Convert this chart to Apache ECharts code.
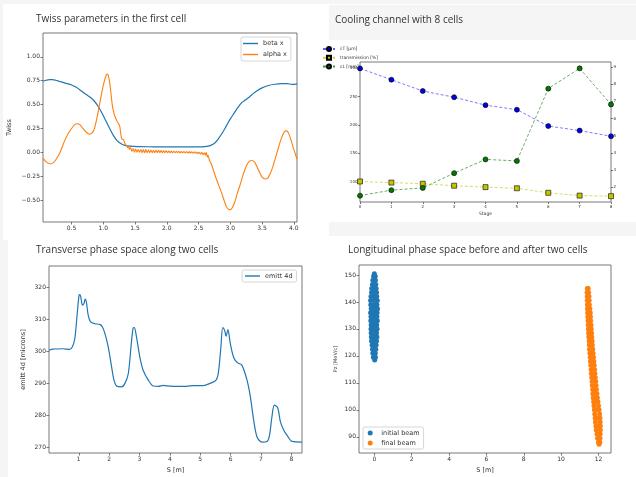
<!DOCTYPE html>
<html>
<head>
<meta charset="utf-8">
<script src="https://cdn.jsdelivr.net/npm/echarts@6/dist/echarts.min.js"></script>
<style>
  html, body { margin: 0; padding: 0; background: #ffffff; }
  #chart { width: 636px; height: 477px; }
</style>
</head>
<body>
<div id="chart"></div>
<script>
// ---- Twiss parameters along the first cell: [s, value] ----
const betaCurve = [
  [0.05,0.745],[0.10,0.755],[0.15,0.762],[0.20,0.762],[0.25,0.755],[0.30,0.745],[0.40,0.725],
  [0.50,0.705],[0.58,0.68],[0.65,0.645],[0.72,0.61],[0.80,0.575],[0.86,0.535],[0.92,0.48],
  [0.98,0.41],[1.04,0.33],[1.10,0.25],[1.16,0.175],[1.22,0.12],[1.28,0.09],[1.34,0.072],
  [1.42,0.064],[1.55,0.06],[1.80,0.058],[2.00,0.056],[2.30,0.056],[2.55,0.058],[2.63,0.062],
  [2.70,0.075],[2.76,0.10],[2.82,0.15],[2.88,0.21],[2.94,0.28],[3.00,0.35],[3.06,0.41],
  [3.12,0.47],[3.18,0.52],[3.24,0.55],[3.30,0.58],[3.36,0.615],[3.42,0.645],[3.50,0.675],
  [3.60,0.70],[3.70,0.713],[3.80,0.72],[3.90,0.72],[3.97,0.712],[4.05,0.715]
];
const alphaCurve = [
  [0.05,-0.06],[0.10,-0.10],[0.16,-0.12],[0.21,-0.11],[0.26,-0.07],[0.32,0.00],[0.39,0.12],
  [0.45,0.20],[0.50,0.25],[0.55,0.29],[0.59,0.30],[0.63,0.29],[0.68,0.25],[0.73,0.21],
  [0.78,0.19],[0.82,0.20],[0.86,0.25],[0.90,0.36],[0.94,0.50],[0.98,0.64],[1.01,0.73],
  [1.04,0.80],[1.06,0.82],[1.08,0.80],[1.10,0.73],[1.12,0.62],[1.14,0.50],[1.16,0.43],
  [1.18,0.38],[1.20,0.35],[1.22,0.32],[1.24,0.30],[1.26,0.27],[1.27,0.22],[1.28,0.17],
  [1.29,0.14],[1.31,0.135],[1.32,0.13],[1.33,0.11],[1.35,0.08],[1.37,0.07],[1.38,0.05],
  [1.40,0.06],[1.41,0.03],
  [1.43,0.05],[1.45,0.01],[1.47,0.04],[1.49,0.00],[1.51,0.035],[1.53,0.00],[1.55,0.03],
  [1.57,0.00],[1.59,0.03],[1.61,-0.005],[1.63,0.03],[1.65,-0.005],[1.67,0.028],[1.69,-0.005],
  [1.71,0.025],[1.73,-0.005],[1.75,0.025],[1.77,-0.005],[1.79,0.022],[1.81,-0.005],[1.83,0.02],
  [1.85,-0.004],[1.87,0.02],[1.89,-0.004],[1.91,0.018],[1.93,-0.003],[1.95,0.016],[1.97,-0.003],
  [1.99,0.015],[2.01,-0.003],[2.03,0.013],[2.05,-0.004],[2.07,0.012],[2.09,-0.004],[2.11,0.011],
  [2.13,-0.004],[2.15,0.010],[2.17,-0.004],[2.19,0.010],[2.21,-0.005],[2.23,0.009],[2.25,-0.005],
  [2.27,0.008],[2.29,-0.006],[2.31,0.008],[2.33,-0.007],[2.35,0.007],[2.37,-0.008],[2.39,0.006],
  [2.41,-0.009],[2.43,0.005],[2.45,-0.01],[2.47,0.003],[2.49,-0.014],[2.51,0.0],[2.53,-0.018],
  [2.55,0.0],[2.57,-0.025],[2.59,-0.005],[2.61,-0.03],[2.62,0.0],[2.64,-0.05],[2.65,-0.03],
  [2.67,-0.08],[2.70,-0.12],[2.74,-0.20],[2.78,-0.28],[2.82,-0.35],[2.86,-0.42],[2.90,-0.50],
  [2.94,-0.57],[2.98,-0.60],[3.00,-0.60],[3.03,-0.58],[3.07,-0.52],[3.11,-0.43],[3.15,-0.35],
  [3.19,-0.26],[3.23,-0.18],[3.27,-0.12],[3.31,-0.09],[3.34,-0.085],[3.38,-0.10],[3.42,-0.15],
  [3.46,-0.21],[3.50,-0.26],[3.55,-0.28],[3.59,-0.27],[3.63,-0.22],[3.67,-0.15],[3.71,-0.06],
  [3.75,0.03],[3.79,0.12],[3.83,0.19],[3.87,0.225],[3.90,0.22],[3.93,0.18],[3.96,0.12],
  [3.99,0.05],[4.02,-0.01],[4.05,-0.07]
];
const twissXTicks = [0.5, 1.0, 1.5, 2.0, 2.5, 3.0, 3.5, 4.0];
const twissYTicks = [-0.5, -0.25, 0, 0.25, 0.5, 0.75, 1.0];

// ---- Cooling channel, one value per stage ----
const stages = [0, 1, 2, 3, 4, 5, 6, 7, 8];
const emittT = [300, 280, 260, 249, 235, 227, 198, 190, 180];
const transmission = [100, 98, 96, 92.5, 90, 88, 80, 75, 74];
const emittL = [1.51, 1.83, 1.96, 2.82, 3.62, 3.53, 7.74, 8.92, 6.82];
const stageLeftTicks = [100, 150, 200, 250, 300];
const stageRightTicks = [2, 3, 4, 5, 6, 7, 8, 9];

// ---- Transverse 4D emittance along two cells: [s, microns] ----
const emitt4d = [
  [0.02,300.35],[0.15,300.7],[0.48,300.8],[0.70,300.6],[0.79,301.4],[0.87,304],[0.95,311.8],
  [1.01,317.5],[1.04,317.7],[1.08,316.2],[1.12,314.4],[1.17,314.9],[1.21,316.3],[1.25,315.4],
  [1.31,311.3],[1.39,309.2],[1.53,308.6],[1.69,308.4],[1.78,307.6],[1.86,305.6],[1.97,301.4],
  [2.08,295.2],[2.16,291],[2.24,289.2],[2.41,288.9],[2.52,290],[2.63,293],[2.72,301.4],
  [2.79,307.3],[2.83,307.4],[2.90,304.5],[3.01,298.3],[3.12,294.1],[3.29,291],[3.45,289.2],
  [3.62,289.1],[3.78,289.4],[3.89,289.2],[4.11,289.1],[4.55,289.1],[4.77,289.3],[5.10,289.3],
  [5.32,290],[5.52,291],[5.60,293.6],[5.68,301.4],[5.74,307.4],[5.80,306.6],[5.85,304.7],
  [5.91,306.8],[5.99,302.4],[6.10,298.1],[6.23,296.4],[6.37,295.7],[6.54,291],[6.65,285.8],
  [6.76,278.5],[6.87,273.3],[7.03,271.7],[7.20,271.9],[7.28,273.8],[7.36,279.6],[7.44,283.2],
  [7.55,282.4],[7.64,278],[7.75,275.4],[7.86,273.8],[8.02,271.9],[8.35,271.7]
];
const transXTicks = [1, 2, 3, 4, 5, 6, 7, 8];
const transYTicks = [270, 280, 290, 300, 310, 320];

// ---- Longitudinal phase space: [s, Pz] per particle ----
const initialBeam = [
  [0.02,118.5],[-0.05,119.5],[0.06,119.5],[-0.08,121],[0.05,121],[-0.1,122.5],[0.08,122.5],[0.0,122.5],
  [-0.12,124],[0.1,124],[-0.02,124],[-0.15,125.5],[0.12,125.5],[0.0,125.5],[-0.16,127],[0.14,127],
  [-0.03,127],[0.05,127],[-0.17,128.5],[0.12,128.5],[0.0,128.5],[-0.18,130],[0.15,130],[-0.05,130],
  [0.06,130],[-0.17,131.5],[0.13,131.5],[0.0,131.5],[-0.19,133],[0.16,133],[-0.04,133],[0.07,133],
  [-0.18,134.5],[0.14,134.5],[0.01,134.5],[-0.2,136],[0.15,136],[-0.05,136],[0.06,136],[-0.17,137.5],
  [0.17,137.5],[0.0,137.5],[-0.19,139],[0.14,139],[-0.06,139],[0.07,139],[-0.2,140.5],[0.16,140.5],
  [0.0,140.5],[-0.18,142],[0.13,142],[-0.04,142],[0.05,142],[-0.15,143.5],[0.12,143.5],[0.0,143.5],
  [-0.14,145],[0.1,145],[-0.02,145],[-0.1,146.5],[0.08,146.5],[0.0,146.5],[-0.08,148],[0.06,148],
  [-0.04,149.5],[0.05,149.5],[0.0,150.5]
];
const finalBeam = [
  [11.40,145],[11.45,145],[11.39,143.5],[11.47,143.5],[11.40,142],[11.49,142],[11.40,140.5],[11.50,140.5],
  [11.41,139],[11.51,139],[11.46,139],[11.41,137.5],[11.54,137.5],[11.42,136],[11.56,136],[11.43,134.5],
  [11.57,134.5],[11.50,134.5],[11.44,133],[11.58,133],[11.45,131.5],[11.60,131.5],[11.46,130],[11.61,130],
  [11.54,130],[11.47,128.5],[11.63,128.5],[11.48,127],[11.64,127],[11.50,125.5],[11.66,125.5],[11.58,125.5],
  [11.51,124],[11.67,124],[11.52,122.5],[11.69,122.5],[11.54,121],[11.71,121],[11.62,121],[11.56,119.5],
  [11.73,119.5],[11.57,118],[11.75,118],[11.59,116.5],[11.77,116.5],[11.68,116.5],[11.61,115],[11.79,115],
  [11.62,113.5],[11.81,113.5],[11.64,112],[11.83,112],[11.73,112],[11.66,110.5],[11.85,110.5],[11.67,109],
  [11.87,109],[11.69,107.5],[11.89,107.5],[11.79,107.5],[11.70,106],[11.92,106],[11.72,104.5],[11.94,104.5],
  [11.74,103],[11.97,103],[11.85,103],[11.76,101.5],[12.00,101.5],[11.78,100],[12.03,100],[11.90,100],
  [11.80,98.5],[12.06,98.5],[11.82,97],[12.08,97],[11.95,97],[11.84,95.5],[12.09,95.5],[11.86,94],
  [12.10,94],[11.98,94],[11.88,92.5],[12.10,92.5],[11.92,91],[12.09,91],[11.95,89.5],[12.08,89.5],
  [12.00,88],[12.07,88],[12.03,87.2]
];
const longXTicks = [0, 2, 4, 6, 8, 10, 12];
const longYTicks = [90, 100, 110, 120, 130, 140, 150];

const TICK_FONT = 'DejaVu Sans';
const TITLE_FONT = 'Open Sans';
const INK = '#333333';

function valueAxis(opts) {
  const size = opts.fontSize || 6;
  return {
    type: 'value',
    gridIndex: opts.grid,
    position: opts.position,
    min: opts.min,
    max: opts.max,
    name: opts.name || '',
    nameLocation: 'middle',
    nameGap: opts.nameGap || 12,
    nameTextStyle: { fontFamily: TICK_FONT, fontSize: opts.nameSize || size + 0.5, color: INK },
    axisLine: { show: false, onZero: false },
    splitLine: { show: false },
    axisTick: {
      show: true,
      length: opts.tickLen || 2.5,
      customValues: opts.ticks,
      lineStyle: { color: '#444', width: 0.7 }
    },
    axisLabel: {
      show: true,
      customValues: opts.ticks,
      fontFamily: TICK_FONT,
      fontSize: size,
      color: INK,
      margin: opts.margin || 3,
      formatter: opts.formatter
    }
  };
}

const minusFmt = (digits) => (v) => {
  const s = Number(v).toFixed(digits);
  return s.replace('-', '\u2212');
};

const chart = echarts.init(document.getElementById('chart'), null, { renderer: 'canvas' });

const gridFrame = { show: true, borderColor: '#555', borderWidth: 0.8, backgroundColor: '#ffffff' };

chart.setOption({
  backgroundColor: '#ffffff',
  animation: false,
  graphic: [
    { type: 'rect', silent: true, z: -10, shape: { x: 0, y: 0, width: 636, height: 4 }, style: { fill: '#f5f5f5' } },
    { type: 'rect', silent: true, z: -10, shape: { x: 0, y: 0, width: 3, height: 240 }, style: { fill: '#f5f5f5' } },
    { type: 'rect', silent: true, z: -10, shape: { x: 329, y: 5, width: 307, height: 35 }, style: { fill: '#f5f5f5' } },
    { type: 'rect', silent: true, z: -10, shape: { x: 329, y: 222, width: 307, height: 14 }, style: { fill: '#f5f5f5' } },
    { type: 'rect', silent: true, z: -10, shape: { x: 0, y: 240, width: 8, height: 237 }, style: { fill: '#f5f5f5' } }
  ],
  title: [
    { text: 'Twiss parameters in the first cell', left: 36, top: 14 },
    { text: 'Cooling channel with 8 cells', left: 335, top: 15 },
    { text: 'Transverse phase space along two cells', left: 36, top: 245 },
    { text: 'Longitudinal phase space before and after two cells', left: 348, top: 245 }
  ].map(t => Object.assign(t, {
    padding: 0,
    textStyle: { fontFamily: TITLE_FONT, fontSize: 10, fontWeight: 'normal', color: '#333' }
  })),
  grid: [
    Object.assign({ left: 43, top: 33, width: 254, height: 189 }, gridFrame),
    Object.assign({ left: 360, top: 62, width: 251, height: 140 }, gridFrame),
    Object.assign({ left: 49, top: 266, width: 253, height: 187 }, gridFrame),
    Object.assign({ left: 359, top: 265, width: 252, height: 188 }, gridFrame)
  ],
  xAxis: [
    valueAxis({ grid: 0, min: 0.05, max: 4.05, ticks: twissXTicks, formatter: minusFmt(1) }),
    valueAxis({ grid: 1, min: 0, max: 8, ticks: stages, fontSize: 4, tickLen: 2, margin: 2.5,
                name: 'Stage', nameGap: 9, nameSize: 4.5 }),
    valueAxis({ grid: 2, min: 0.02, max: 8.35, ticks: transXTicks, name: 'S [m]', nameGap: 14, nameSize: 6.5 }),
    valueAxis({ grid: 3, min: -0.82, max: 12.67, ticks: longXTicks, name: 'S [m]', nameGap: 14, nameSize: 6.5 })
  ],
  yAxis: [
    valueAxis({ grid: 0, min: -0.73, max: 1.25, ticks: twissYTicks, formatter: minusFmt(2),
                name: 'Twiss', nameGap: 30, nameSize: 6.5 }),
    valueAxis({ grid: 1, position: 'left', min: 63.7, max: 311.3, ticks: stageLeftTicks, fontSize: 4, tickLen: 2, margin: 2.5 }),
    valueAxis({ grid: 1, position: 'right', min: 1.14, max: 9.29, ticks: stageRightTicks, fontSize: 4, tickLen: 2, margin: 2.5 }),
    valueAxis({ grid: 2, min: 268.3, max: 326.6, ticks: transYTicks, name: 'emitt 4d [microns]', nameGap: 22, nameSize: 6.5 }),
    valueAxis({ grid: 3, min: 84, max: 153.7, ticks: longYTicks, name: 'Pz [MeV/c]', nameGap: 21, nameSize: 5 })
  ],
  legend: [
    {
      data: ['beta x', 'alpha x'], left: 241, top: 37, orient: 'vertical',
      icon: 'rect', itemWidth: 15, itemHeight: 1.4, itemGap: 3,
      padding: [2.5, 4, 2.5, 2], backgroundColor: '#ffffff', borderColor: '#cccccc', borderWidth: 0.8, borderRadius: 2,
      textStyle: { fontFamily: TICK_FONT, fontSize: 6.5, color: INK, lineHeight: 8 }
    },
    {
      data: ['εT [μm]', 'transmission [%]', 'εL [mm]'], left: 322, top: 46, orient: 'vertical',
      itemWidth: 12, itemHeight: 5, itemGap: 2.7, padding: 0,
      textStyle: { fontFamily: TICK_FONT, fontSize: 4.5, color: INK, lineHeight: 5 }
    },
    {
      data: ['emitt 4d'], left: 242, top: 270, orient: 'vertical',
      icon: 'rect', itemWidth: 15, itemHeight: 1.4,
      padding: [2, 4, 2, 3], backgroundColor: '#ffffff', borderColor: '#cccccc', borderWidth: 0.8, borderRadius: 2,
      textStyle: { fontFamily: TICK_FONT, fontSize: 6.5, color: INK, lineHeight: 8 }
    },
    {
      data: ['initial beam', 'final beam'], left: 363, top: 427, orient: 'vertical',
      icon: 'circle', itemWidth: 12, itemHeight: 5, itemGap: 2,
      padding: [2, 4, 2, 4.7], backgroundColor: '#ffffff', borderColor: '#cccccc', borderWidth: 0.8, borderRadius: 2,
      textStyle: { fontFamily: TICK_FONT, fontSize: 6.5, color: INK, lineHeight: 8 }
    }
  ],
  series: [
    {
      name: 'beta x', type: 'line', xAxisIndex: 0, yAxisIndex: 0, data: betaCurve,
      showSymbol: false, smooth: 0.3, color: '#1f77b4', lineStyle: { width: 1.2 }
    },
    {
      name: 'alpha x', type: 'line', xAxisIndex: 0, yAxisIndex: 0, data: alphaCurve,
      showSymbol: false, smooth: 0.2, color: '#ff7f0e', lineStyle: { width: 1.1 }
    },
    {
      name: 'εT [μm]', type: 'line', xAxisIndex: 1, yAxisIndex: 1,
      data: stages.map((s, i) => [s, emittT[i]]),
      symbol: 'circle', symbolSize: 5, color: '#0000ff',
      itemStyle: { color: '#0000e0', borderColor: '#000000', borderWidth: 0.6 },
      lineStyle: { color: '#3333ff', width: 0.8, type: [3, 2], opacity: 0.8 }
    },
    {
      name: 'transmission [%]', type: 'line', xAxisIndex: 1, yAxisIndex: 1,
      data: stages.map((s, i) => [s, transmission[i]]),
      symbol: 'rect', symbolSize: 5, color: '#bfbf00',
      itemStyle: { color: '#c4c400', borderColor: '#000000', borderWidth: 0.6 },
      lineStyle: { color: '#cccc33', width: 0.8, type: [3, 2], opacity: 0.9 }
    },
    {
      name: 'εL [mm]', type: 'line', xAxisIndex: 1, yAxisIndex: 2,
      data: stages.map((s, i) => [s, emittL[i]]),
      symbol: 'circle', symbolSize: 5, color: '#008000',
      itemStyle: { color: '#007a00', borderColor: '#000000', borderWidth: 0.6 },
      lineStyle: { color: '#2e8b2e', width: 0.8, type: [3, 2], opacity: 0.9 }
    },
    {
      name: 'emitt 4d', type: 'line', xAxisIndex: 2, yAxisIndex: 3, data: emitt4d,
      showSymbol: false, smooth: 0.3, color: '#1f77b4', lineStyle: { width: 1.2 }
    },
    {
      name: 'initial beam', type: 'scatter', xAxisIndex: 3, yAxisIndex: 4, data: initialBeam,
      symbol: 'circle', symbolSize: 5, color: '#1f77b4', itemStyle: { opacity: 1 }
    },
    {
      name: 'final beam', type: 'scatter', xAxisIndex: 3, yAxisIndex: 4, data: finalBeam,
      symbol: 'circle', symbolSize: 5, color: '#ff7f0e', itemStyle: { opacity: 1 }
    }
  ]
});
</script>
</body>
</html>
